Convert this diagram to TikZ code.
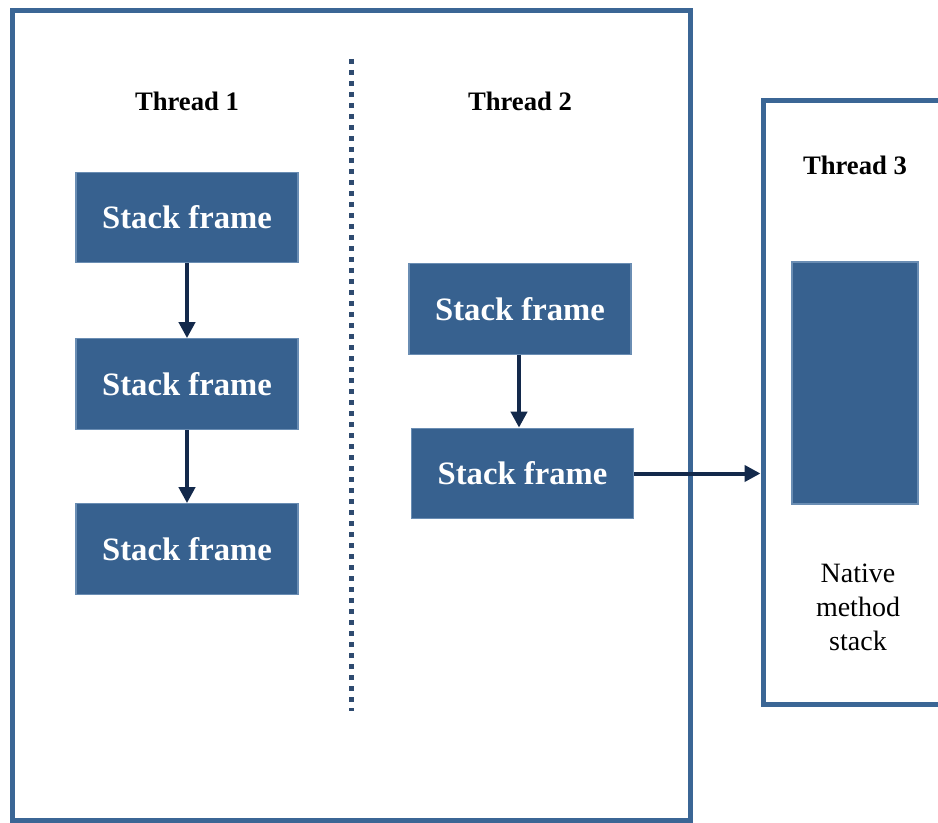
\documentclass[tikz,border=0pt]{standalone}
\usepackage{fontspec}
\setmainfont{Liberation Serif}
\usetikzlibrary{arrows.meta}
\definecolor{framec}{HTML}{3B6695}
\definecolor{boxc}{HTML}{37618F}
\definecolor{boxedge}{HTML}{6A8DB3}
\definecolor{arrowc}{HTML}{13294B}
\definecolor{dotc}{HTML}{2F4B70}
\begin{document}
\begin{tikzpicture}[x=0.75pt,y=-0.75pt,
  frame/.style={draw=framec,line width=3.75pt,fill=none,inner sep=0pt},
  stackbox/.style={draw=boxedge,line width=0.8pt,fill=boxc,text=white,
     font=\fontsize{24.5}{29}\selectfont\bfseries,
     minimum width=166.5pt,minimum height=68pt,inner sep=0pt},
  nativebox/.style={draw=boxedge,line width=0.8pt,fill=boxc,inner sep=0pt,
     minimum width=94.5pt,minimum height=181.5pt},
  title/.style={font=\fontsize{20}{24}\selectfont\bfseries,text=black},
  conn/.style={draw=arrowc,line width=3pt,-{Triangle[length=12pt,width=12pt]}},
  sep/.style={draw=dotc,line width=3.75pt,dash pattern=on 3.75pt off 4.5pt}
]
\useasboundingbox (0,0) rectangle (938,823);
\begin{scope}
\clip (0,0) rectangle (938,823);
% outer frame
\node[frame,minimum width=508.5pt,minimum height=606.75pt] (outer) at (351,415.5) {};
% thread 3 frame (cut off on the right)
\node[frame,minimum width=147.75pt,minimum height=452.25pt] (t3) at (861.5,402.5) {};
\end{scope}
% separator
\coordinate (s1) at (351,59);
\coordinate (s2) at (351,711);
\draw[sep] (s1) -- (s2);
% titles
\node[title] (th1) at (187,101) {Thread 1};
\node[title] (th2) at (520,101) {Thread 2};
\node[title] (th3) at (855,165) {Thread 3};
% thread 1 frames
\node[stackbox] (a1) at (187,217.5) {Stack frame};
\node[stackbox] (a2) at (187,384) {Stack frame};
\node[stackbox] (a3) at (187,549) {Stack frame};
% thread 2 frames
\node[stackbox] (b1) at (520,309) {Stack frame};
\node[stackbox] (b2) at (522.5,473.5) {Stack frame};
% thread 3
\node[nativebox] (n) at (855,383) {};
\node[align=center,font=\fontsize{21}{25.5}\selectfont] (nl) at (858,607) {Native\\method\\stack};
% connectors
\draw[conn] (a1.south) -- (a2.north);
\draw[conn] (a2.south) -- (a3.north);
\draw[conn] (b1.south -| 519,0) -- (b2.north -| 519,0);
\draw[conn] (b2.east) -- (b2.east -| t3.west);
\end{tikzpicture}
\end{document}
